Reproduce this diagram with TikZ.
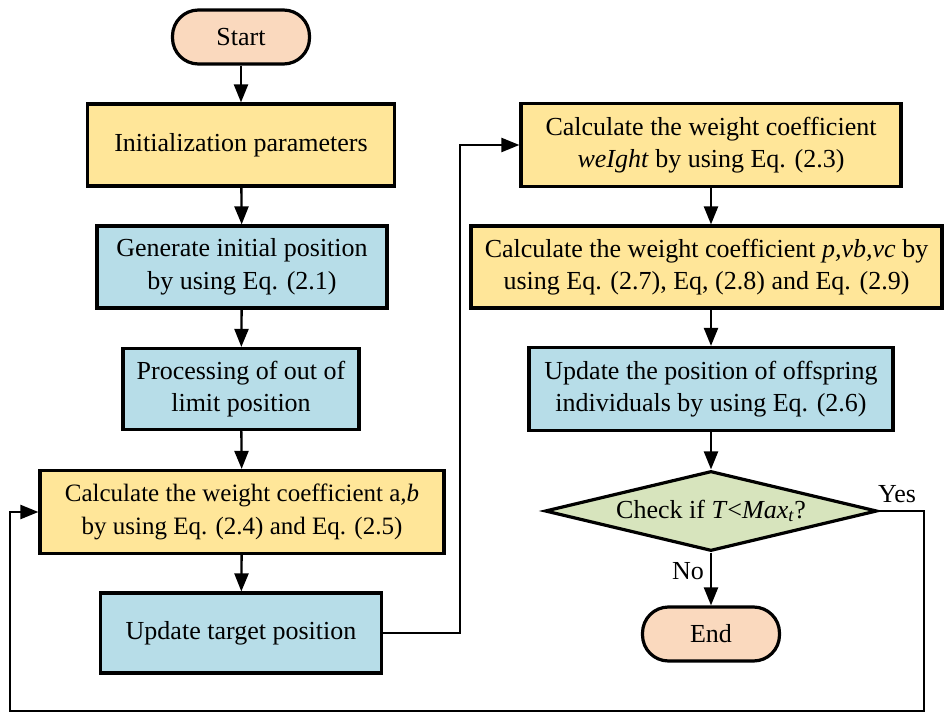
\documentclass[tikz,border=0pt]{standalone}
\usepackage{fontspec}
\setmainfont{Liberation Serif}
\usetikzlibrary{arrows.meta,shapes.geometric,calc}
\definecolor{cyellow}{HTML}{FFE699}
\definecolor{cblue}{HTML}{B7DDE8}
\definecolor{cpeach}{HTML}{FAD9BE}
\definecolor{cgreen}{HTML}{D7E4BD}
\begin{document}
\begin{tikzpicture}[x=1pt,y=-1pt,
  every node/.style={font=\fontsize{26}{32.5}\selectfont, align=center, inner sep=0pt},
  boxy/.style={draw=black, line width=3.2pt, fill=cyellow},
  boxb/.style={draw=black, line width=3.2pt, fill=cblue},
  term/.style={draw=black, line width=3.2pt, fill=cpeach, rounded corners=26pt},
  dec/.style={draw=black, line width=3.2pt, fill=cgreen, diamond, aspect=4.15, minimum width=332pt, minimum height=80pt},
  conn/.style={line width=2.3pt, draw=black},
  arr/.style={conn, -{Triangle[length=18pt,width=14pt]}},
  lbl/.style={font=\fontsize{26}{30}\selectfont}
]
\useasboundingbox (0,0) rectangle (945,714);
% left column
\node[term, minimum width=137pt, minimum height=54pt] (start) at (241,37) {Start};
\node[boxy, minimum width=307pt, minimum height=82pt] (init) at (241,145) {Initialization parameters};
\node[boxb, minimum width=290pt, minimum height=82pt] (gen) at (242,267) {Generate initial position\\by using Eq. (2.1)};
\node[boxb, minimum width=236pt, minimum height=81pt] (proc) at (241,389) {Processing of out of\\limit position};
\node[boxy, minimum width=404pt, minimum height=83pt, font=\fontsize{25}{32.5}\selectfont] (calcab) at (242,512) {Calculate the weight coefficient a\textit{,b}\\by using Eq. (2.4) and Eq. (2.5)};
\node[boxb, minimum width=281pt, minimum height=80pt] (upd) at (241,633) {Update target position};
% right column
\node[boxy, minimum width=380pt, minimum height=83pt] (weight) at (711,145) {Calculate the weight coefficient\\\textit{weIght} by using Eq. (2.3)};
\node[boxy, minimum width=471pt, minimum height=82pt] (pvb) at (706.5,267) {Calculate the weight coefficient \textit{p,vb,vc} by\\using Eq. (2.7), Eq, (2.8) and Eq. (2.9)};
\node[boxb, minimum width=364pt, minimum height=83pt] (off) at (711,389) {Update the position of offspring\\individuals by using Eq. (2.6)};
\node[dec] (check) at (711,511) {\makebox[190pt][c]{Check if \textit{T}<\textit{Max}\textsubscript{\textit{t}}?}};
\node[term, minimum width=137pt, minimum height=54pt] (end) at (711,634) {End};
% coordinates
\coordinate (r1) at (460,633);
\coordinate (r2) at (460,145);
\coordinate (y1) at (924,511);
\coordinate (y2) at (924,711);
\coordinate (y3) at (10,711);
\coordinate (y4) at (10,512);
% connectors
\draw[arr] (start) -- (init);
\draw[arr] (init) -- (gen);
\draw[arr] (gen) -- (proc);
\draw[arr] (proc) -- (calcab);
\draw[arr] (calcab) -- (upd);
\draw[arr] (upd.east) -- (r1) -- (r2) -- (weight.west);
\draw[arr] (weight) -- (pvb.north -| weight.south);
\draw[arr] (pvb.south -| off.north) -- (off);
\draw[arr] (off) -- (check.north);
\draw[arr] (check.south) -- node[lbl, left=6pt, pos=0.35] (nolbl) {No} (end);
\draw[arr] (check.east) -- (y1) -- (y2) -- (y3) -- (y4) -- (calcab.west);
\node[lbl] (yeslbl) at (897,494) {Yes};
\end{tikzpicture}
\end{document}
